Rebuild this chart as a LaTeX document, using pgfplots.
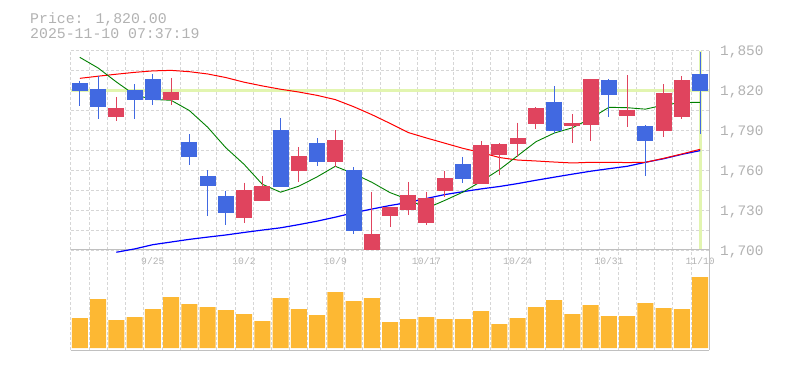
\documentclass[border=0pt]{standalone}
\usepackage{fontspec}
\setmainfont{Liberation Mono}
\setmonofont{Liberation Mono}
\usepackage{pgfplots}
\pgfplotsset{compat=1.18}
\usepackage{pgfplotstable}

\definecolor{cblue}{RGB}{65,105,225}
\definecolor{cred}{RGB}{224,68,94}
\definecolor{cvol}{RGB}{253,184,51}
\definecolor{cyel}{RGB}{226,245,176}
\definecolor{cgrid}{RGB}{214,214,214}
\definecolor{caxis}{RGB}{192,192,192}
\definecolor{ctext}{RGB}{178,178,178}
\definecolor{cma5}{RGB}{0,128,0}
\definecolor{cma25}{RGB}{255,0,0}
\definecolor{cma75}{RGB}{0,0,255}

% bullish (red): top=close, bot=open
\pgfplotstableread{
i top bot hi lo
2 1806.9 1800.4 1815.2 1797.4
5 1818.9 1813.1 1829.5 1809.4
9 1745.2 1724.3 1750.7 1720.6
10 1748.2 1737.1 1755.7 1737.1
12 1770.8 1759.5 1777.5 1751.4
14 1782.8 1766.5 1790.3 1762.7
16 1712.1 1700.0 1743.7 1700.0
17 1732.4 1725.9 1732.4 1717.6
18 1741.4 1730.4 1751.2 1726.6
19 1738.9 1720.6 1743.7 1719.1
20 1754.2 1744.7 1759.5 1739.6
22 1779.0 1749.9 1782.0 1749.9
23 1779.8 1771.8 1780.5 1756.7
24 1784.3 1780.0 1795.8 1770.3
25 1806.9 1794.8 1807.6 1791.3
27 1795.8 1793.3 1802.4 1780.8
28 1828.7 1794.3 1828.7 1782.0
30 1805.4 1801.1 1831.7 1792.8
32 1818.2 1789.8 1824.9 1785.3
33 1828.0 1800.4 1831.0 1798.9
}\upcandles

% bearish (blue): top=open, bot=close
\pgfplotstableread{
i top bot hi lo
0 1825.7 1819.9 1827.2 1808.4
1 1821.2 1807.9 1831.0 1798.9
3 1820.4 1813.1 1824.9 1798.9
4 1828.7 1813.1 1832.5 1809.4
6 1781.3 1770.3 1787.3 1764.2
7 1755.7 1748.4 1760.2 1725.9
8 1740.7 1728.1 1744.7 1719.1
11 1790.3 1747.7 1799.4 1747.7
13 1780.5 1766.2 1784.3 1763.5
15 1760.2 1714.6 1762.2 1712.3
21 1764.7 1753.7 1770.0 1750.7
26 1811.4 1789.8 1823.4 1787.8
29 1828.0 1816.9 1828.7 1800.4
31 1793.3 1782.3 1794.1 1756.0
34 1832.5 1820.0 1849.0 1787.3
}\downcandles

\pgfplotstableread{
i ma
0 1845.0
1 1837.0
2 1826.5
3 1816.8
4 1813.3
5 1812.7
6 1805.0
7 1792.5
8 1777.0
9 1764.5
10 1749.5
11 1743.5
12 1748.0
13 1755.0
14 1763.0
15 1757.5
16 1751.0
17 1743.2
18 1738.0
19 1731.4
20 1737.3
21 1743.6
22 1751.7
23 1760.5
24 1771.0
25 1781.5
26 1788.0
27 1792.0
28 1799.0
29 1807.4
30 1807.1
31 1806.0
32 1809.1
33 1811.0
34 1811.1
}\mafive

\pgfplotstableread{
i ma
0 1829.2
1 1830.8
2 1832.3
3 1833.7
4 1834.8
5 1835.2
6 1834.2
7 1832.5
8 1829.8
9 1826.3
10 1823.5
11 1821.0
12 1818.9
13 1816.4
14 1813.2
15 1807.9
16 1801.9
17 1795.3
18 1788.4
19 1784.3
20 1780.4
21 1776.5
22 1773.3
23 1769.6
24 1767.7
25 1767.0
26 1766.2
27 1765.5
28 1766.0
29 1766.0
30 1765.8
31 1766.0
32 1769.0
33 1772.3
34 1775.8
}\matwentyfive

\pgfplotstableread{
i ma
2 1698.3
3 1700.8
4 1704.0
5 1706.0
6 1708.0
7 1709.7
8 1711.3
9 1713.2
10 1715.0
11 1716.7
12 1719.1
13 1721.7
14 1724.7
15 1728.0
16 1730.8
17 1733.5
18 1735.8
19 1738.8
20 1741.7
21 1743.9
22 1746.0
23 1747.8
24 1750.0
25 1752.5
26 1754.8
27 1757.1
28 1759.3
29 1761.2
30 1763.0
31 1766.0
32 1768.7
33 1772.0
34 1774.8
}\maseventyfive

\pgfplotstableread{
i v
0 30
1 49
2 28
3 31
4 39
5 51
6 44
7 41
8 38
9 34
10 27
11 50
12 39
13 33
14 56
15 47
16 50
17 26
18 29
19 31
20 29
21 29
22 37
23 24
24 30
25 41
26 48
27 34
28 43
29 32
30 32
31 45
32 40
33 39
34 71
}\voldata

\begin{document}
\begin{tikzpicture}
\path[use as bounding box] (0bp,0bp) rectangle (785bp,370bp);
\node[anchor=base west, inner sep=0pt, text=ctext, font=\fontsize{14.9}{15}\selectfont] at (30bp,346.7bp) {Price: 1,820.00};
\node[anchor=base west, inner sep=0pt, text=ctext, font=\fontsize{14.9}{15}\selectfont] at (30bp,331.7bp) {2025-11-10 07:37:19};

\begin{axis}[
  at={(70.7bp,120bp)}, anchor=south west, scale only axis,
  width=638.6bp, height=199.3bp,
  xmin=-0.5, xmax=34.5, ymin=1700, ymax=1850,
  clip=false,
  axis x line*=bottom, axis y line*=right,
  axis line style={draw=caxis, line width=1bp},
  xtick={4,9,14,19,24,29,34},
  xticklabels={9/25,10/2,10/9,10/17,10/24,10/31,11/10},
  minor xtick={-0.5,0.5,...,34.5},
  ytick={1700,1730,1760,1790,1820,1850},
  minor ytick={1715,1745,1775,1805,1835},
  xmajorgrids=false, xminorgrids=true, ymajorgrids=true, yminorgrids=true,
  grid style={draw=cgrid, dash pattern=on 3bp off 2bp, line width=0.8bp},
  major tick length=0pt, minor tick length=0pt,
  /pgf/number format/.cd, 1000 sep={,}, assume math mode=true,
  /pgfplots/.cd,
  yticklabel style={font=\fontsize{14.5}{15}\selectfont, text=ctext, anchor=west, inner sep=0pt, xshift=10.7bp, yshift=-1.5bp},
  xticklabel style={font=\fontsize{9.7}{10}\selectfont, text=ctext, anchor=north, inner sep=0pt, yshift=-7.5bp},
]
\addplot[cyel, line width=3bp, forget plot] coordinates {(-0.5,1820) (34.5,1820)};
\addplot[cyel, line width=3bp, forget plot] coordinates {(34,1701) (34,1850)};
\addplot[cma75, line width=1.2bp, mark=none] table[x=i, y=ma] {\maseventyfive};
\addplot[cma25, line width=1bp, mark=none] table[x=i, y=ma] {\matwentyfive};
\addplot[cma5, line width=0.9bp, mark=none] table[x=i, y=ma] {\mafive};
% wicks
\addplot[draw=none, mark=none, error bars/.cd, y dir=minus, y explicit, error mark=none,
  error bar style={draw=cred, line width=1bp, solid}]
  table[x=i, y=hi, y error minus expr=\thisrow{hi}-\thisrow{lo}] {\upcandles};
\addplot[draw=none, mark=none, error bars/.cd, y dir=minus, y explicit, error mark=none,
  error bar style={draw=cblue, line width=1bp, solid}]
  table[x=i, y=hi, y error minus expr=\thisrow{hi}-\thisrow{lo}] {\downcandles};
% bodies
\addplot[draw=none, mark=none, error bars/.cd, y dir=minus, y explicit, error mark=none,
  error bar style={draw=cred, line width=16bp, solid}]
  table[x=i, y=top, y error minus expr=\thisrow{top}-\thisrow{bot}] {\upcandles};
\addplot[draw=none, mark=none, error bars/.cd, y dir=minus, y explicit, error mark=none,
  error bar style={draw=cblue, line width=16bp, solid}]
  table[x=i, y=top, y error minus expr=\thisrow{top}-\thisrow{bot}] {\downcandles};
\end{axis}

\begin{axis}[
  at={(70.7bp,20bp)}, anchor=south west, scale only axis,
  width=638.6bp, height=100bp,
  xmin=-0.5, xmax=34.5, ymin=-2, ymax=98,
  axis x line*=bottom, axis y line*=right,
  axis line style={draw=caxis, line width=1bp},
  xtick={-0.5,0.5,...,34.5}, xticklabels={},
  ytick=\empty,
  xmajorgrids=true,
  grid style={draw=cgrid, dash pattern=on 3bp off 2bp, line width=0.8bp},
  major tick length=0pt,
  ybar, bar width=16bp,
]
\addplot[fill=cvol, draw=none] table[x=i, y=v] {\voldata};
\end{axis}
\end{tikzpicture}
\end{document}
